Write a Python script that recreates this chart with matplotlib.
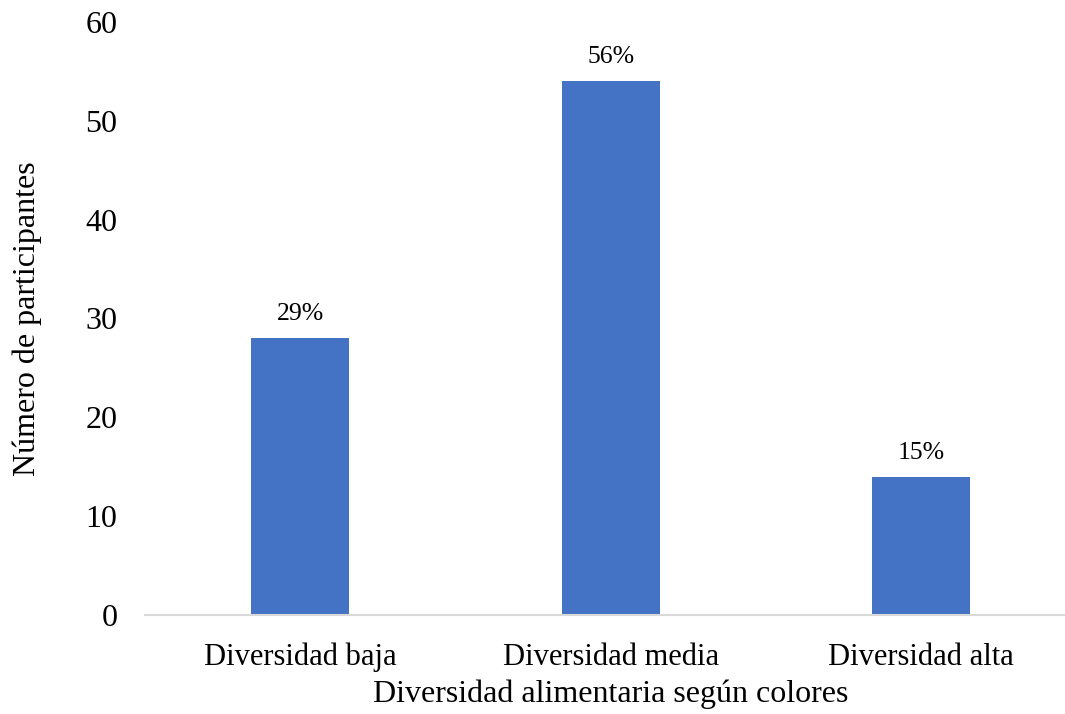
import numpy as np
import matplotlib.pyplot as plt

categories = ["Diversidad baja", "Diversidad media", "Diversidad alta"]
counts = [28, 54, 14]
pct_labels = ["29%", "56%", "15%"]

plt.rcParams['font.family'] = ['Liberation Serif', 'DejaVu Serif']

fig = plt.figure(figsize=(10.65, 7.14), dpi=100)
ax = fig.add_axes([0.1362, 0.1387, 0.8745, 0.8305])

x = np.arange(len(categories))
ax.bar(x, counts, width=0.315, color="#4472C4", zorder=2)

for xi, c, lab in zip(x, counts, pct_labels):
	ax.text(xi, c + 1.3, lab, ha="center", va="bottom", fontsize=18.5)

ax.set_xlim(-0.5, 2.5)
ax.set_ylim(0, 60)
ax.set_yticks(np.arange(0, 61, 10))
ax.set_xticks(x)
ax.set_xticklabels(categories)
ax.tick_params(axis="both", length=0, labelsize=22)
ax.tick_params(axis="y", labelsize=23)
ax.tick_params(axis="x", pad=20)
ax.tick_params(axis="y", pad=20)

for s in ["top", "right", "left"]:
	ax.spines[s].set_visible(False)
ax.spines["bottom"].set_color("#D9D9D9")
ax.spines["bottom"].set_linewidth(1.5)

ax.set_xlabel("Diversidad alimentaria según colores", fontsize=23, labelpad=5)
ax.set_ylabel("Número de participantes", fontsize=23, labelpad=31)

fig.savefig("out.png", dpi=100)
